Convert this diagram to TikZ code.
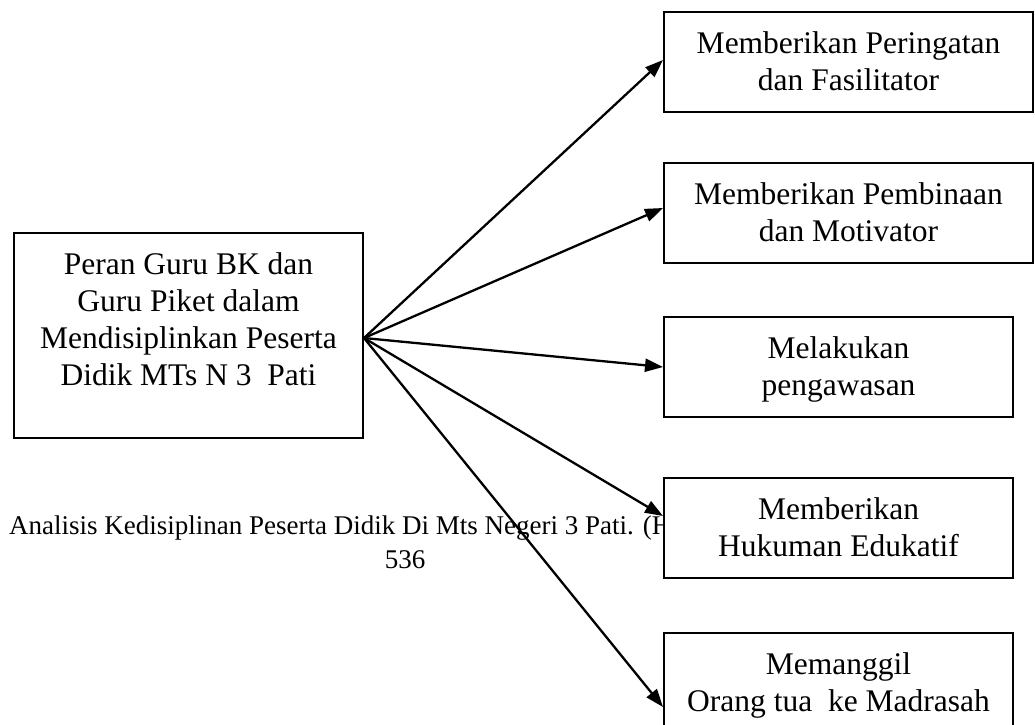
\documentclass[tikz,border=0pt]{standalone}
\usepackage{fontspec}
\setmainfont{Liberation Serif}
\usetikzlibrary{arrows.meta}
\newcommand\mystrutA{\rule[-6.9pt]{0pt}{32.8pt}}
\begin{document}
\begin{tikzpicture}[x=1pt,y=-1pt,
  boxtext/.style={font=\fontsize{31.5}{37}\selectfont, align=center},
  rbox/.style={draw=black, line width=2pt, fill=white, inner sep=0pt, boxtext},
  wbox/.style={rbox, minimum width=369pt, minimum height=100pt},
  nbox/.style={rbox, minimum width=349pt, minimum height=100pt},
  conn/.style={line width=2.3pt, -{Triangle[length=18pt,width=13pt]}},
  foot/.style={font=\fontsize{27}{30}\selectfont, inner sep=0pt}]
\useasboundingbox (0,0) rectangle (1035,724);
% footer text (covered partly by box 4)
\node[foot, anchor=base west] (foot1) at (9,534) {Analisis Kedisiplinan Peserta Didik Di Mts Negeri 3 Pati. (H};
\node[foot, anchor=base] (foot2) at (405,568) {536};
% source box
\node[rbox, minimum width=349pt, minimum height=205pt] (src) at (188.5,335.5) {};
\node[boxtext, inner sep=0pt] (srctext) at (188.5,320.8) {\mystrutA Peran Guru BK dan\\\mystrutA Guru Piket dalam\\\mystrutA Mendisiplinkan Peserta\\\mystrutA Didik MTs N 3\ \ Pati};
% target boxes
\node[wbox] (b1) at (848.5,62) {\mystrutA Memberikan Peringatan\\\mystrutA dan Fasilitator};
\node[wbox] (b2) at (848.5,213) {\mystrutA Memberikan Pembinaan\\\mystrutA dan Motivator};
\node[nbox] (b3) at (838.5,367) {\mystrutA Melakukan\\\mystrutA pengawasan};
\node[nbox] (b4) at (838.5,528) {\mystrutA Memberikan\\\mystrutA Hukuman Edukatif};
\node[nbox] (b5) at (838.5,683) {\mystrutA Memanggil\\\mystrutA Orang tua\ \ ke Madrasah};
% connectors
\coordinate (o) at ([yshift=-2.5pt]src.east);
\draw[conn] (o) -- ([yshift=2pt]b1.west);
\draw[conn] (o) -- ([yshift=5pt]b2.west);
\draw[conn] (o) -- (b3.west);
\draw[conn] (o) -- ([yshift=12pt]b4.west);
\draw[conn] (o) -- ([yshift=-24pt]b5.west);
\end{tikzpicture}
\end{document}
